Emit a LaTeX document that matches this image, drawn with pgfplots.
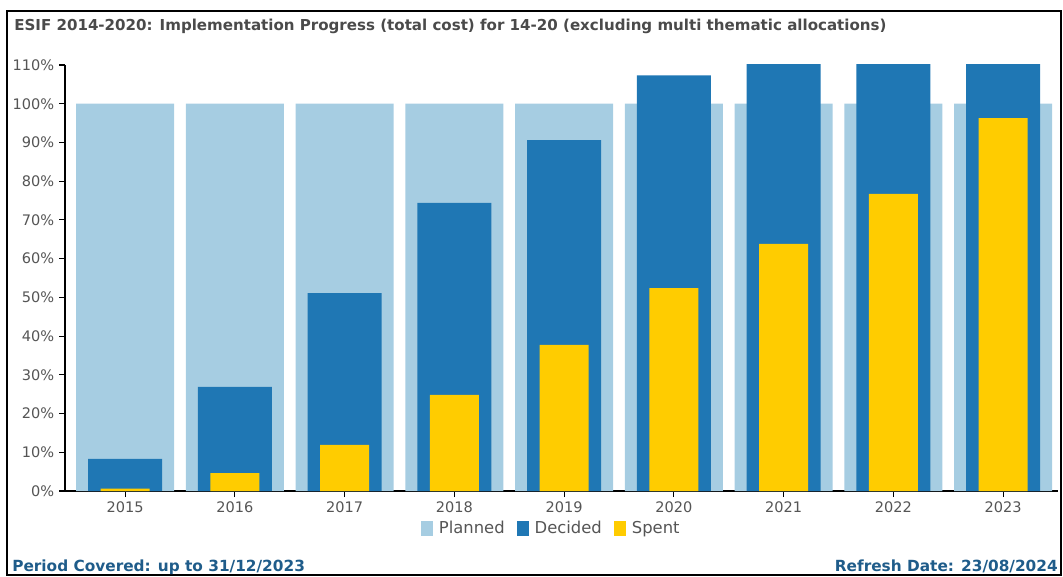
\documentclass[border=0pt]{standalone}
\usepackage{fontspec}
\setmainfont{DejaVu Sans}
\usepackage{pgfplots}
\pgfplotsset{compat=1.18}
\definecolor{planned}{HTML}{A6CDE2}
\definecolor{decided}{HTML}{1F77B4}
\definecolor{spent}{HTML}{FFCC00}
\definecolor{ticktxt}{HTML}{555555}
\definecolor{titletxt}{HTML}{4A4A4A}
\definecolor{foot}{HTML}{1F5C8A}
\begin{document}
\begin{tikzpicture}
\useasboundingbox (0,0) rectangle (797.25pt,-432.75pt);
\draw[line width=1.5pt] (5.25pt,-8.25pt) rectangle (795.75pt,-431.5pt);
\node[anchor=base west, inner sep=0pt, text=titletxt, font=\bfseries\fontsize{11.3}{13}\selectfont] at (10.5pt,-22.8pt) {ESIF 2014-2020: Implementation Progress (total cost) for 14-20 (excluding multi thematic allocations)};
\begin{axis}[
  at={(48.75pt,-368.25pt)}, anchor=south west,
  scale only axis, width=744.75pt, height=319.5pt,
  xmin=-0.547, xmax=8.5, ymin=0, ymax=110,
  axis lines*=left,
  axis line style={black, line width=0.9pt},
  tick align=outside,
  major tick length=4.5pt,
  tick style={black, line width=0.8pt},
  xtick={0,...,8},
  xticklabels={2015,2016,2017,2018,2019,2020,2021,2022,2023},
  ytick={0,10,...,110},
  yticklabel={\pgfmathprintnumber{\tick}\%},
  /pgf/number format/assume math mode=true,
  tick label style={text=ticktxt, font=\fontsize{10.9}{12}\selectfont},
  legend style={at={(0.49,-0.087)}, anchor=center, draw=none, fill=none,
    legend columns=-1, font=\fontsize{12.3}{14}\selectfont, text=ticktxt,
    /tikz/every odd column/.append style={column sep=2.5pt},
    /tikz/every even column/.append style={column sep=7pt}},
  legend image code/.code={\fill[#1] (0pt,-6pt) rectangle (9pt,5.5pt);},
]
\addplot[ybar, bar width=0.893, bar shift=0pt, fill=planned, draw=none] coordinates {
(0,100) (1,100) (2,100) (3,100) (4,100) (5,100) (6,100) (7,100) (8,100)};
\addlegendentry{Planned}
\addplot[ybar, bar width=0.674, bar shift=0pt, fill=decided, draw=none] coordinates {
(0,8.3) (1,26.9) (2,51.1) (3,74.4) (4,90.6) (5,107.3) (6,115) (7,118) (8,120)};
\addlegendentry{Decided}
\addplot[ybar, bar width=0.446, bar shift=0pt, fill=spent, draw=none] coordinates {
(0,0.6) (1,4.6) (2,11.9) (3,24.8) (4,37.7) (5,52.4) (6,63.8) (7,76.7) (8,96.3)};
\addlegendentry{Spent}
\end{axis}
\node[anchor=base west, inner sep=0pt, text=foot, font=\bfseries\fontsize{11.5}{13}\selectfont] at (9pt,-428.5pt) {Period Covered: up to 31/12/2023};
\node[anchor=base east, inner sep=0pt, text=foot, font=\bfseries\fontsize{11.5}{13}\selectfont] at (793.5pt,-428.5pt) {Refresh Date: 23/08/2024};
\end{tikzpicture}
\end{document}
